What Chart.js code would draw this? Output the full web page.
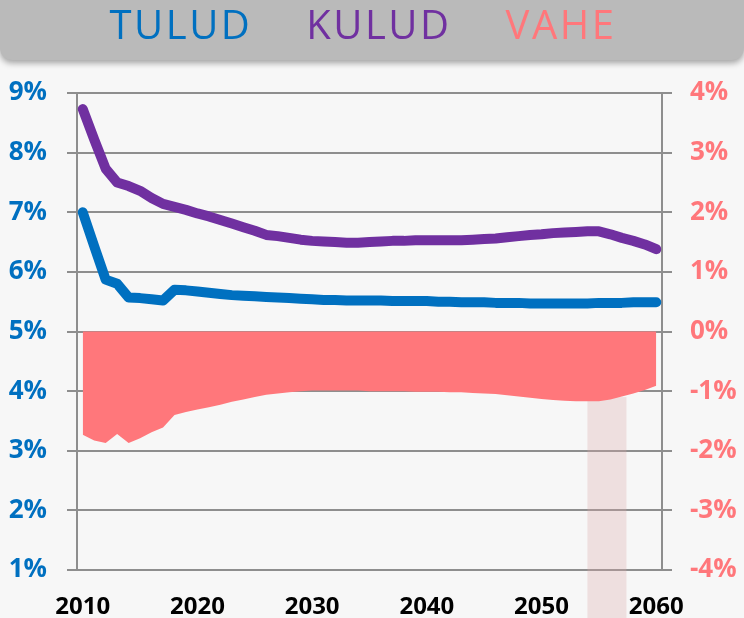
<!DOCTYPE html>
<html>
<head>
<meta charset="utf-8">
<script src="https://cdn.jsdelivr.net/npm/chart.js@4.4.0/dist/chart.umd.min.js"></script>
<style>
html,body{margin:0;padding:0;background:#F7F7F7;}
#wrap{width:744px;height:618px;position:relative;}
canvas{display:block;}
</style>
</head>
<body>
<div id="wrap"><canvas id="c" width="744" height="618"></canvas></div>
<script>
const years = [2010,2011,2012,2013,2014,2015,2016,2017,2018,2019,
               2020,2021,2022,2023,2024,2025,2026,2027,2028,2029,
               2030,2031,2032,2033,2034,2035,2036,2037,2038,2039,
               2040,2041,2042,2043,2044,2045,2046,2047,2048,2049,
               2050,2051,2052,2053,2054,2055,2056,2057,2058,2059,2060];

const tulud = [7.00,6.43,5.87,5.80,5.57,5.56,5.54,5.52,5.70,5.69,
               5.67,5.65,5.63,5.61,5.60,5.59,5.58,5.57,5.56,5.55,
               5.54,5.53,5.53,5.52,5.52,5.52,5.52,5.51,5.51,5.51,
               5.51,5.50,5.50,5.49,5.49,5.49,5.48,5.48,5.48,5.47,
               5.47,5.47,5.47,5.47,5.47,5.48,5.48,5.48,5.49,5.49,5.49];

const kulud = [8.73,8.22,7.73,7.50,7.44,7.36,7.24,7.14,7.09,7.04,
               6.98,6.93,6.87,6.81,6.75,6.69,6.62,6.60,6.57,6.54,
               6.52,6.51,6.50,6.49,6.49,6.50,6.51,6.52,6.52,6.53,
               6.53,6.53,6.53,6.53,6.54,6.55,6.56,6.58,6.60,6.62,
               6.63,6.65,6.66,6.67,6.68,6.68,6.63,6.57,6.52,6.46,6.38];

const vahe = [-1.73,-1.83,-1.87,-1.72,-1.87,-1.79,-1.69,-1.61,-1.40,-1.35,
              -1.31,-1.27,-1.23,-1.18,-1.14,-1.10,-1.06,-1.04,-1.02,-1.00,
              -0.99,-0.99,-0.99,-0.99,-0.99,-1.00,-1.00,-1.00,-1.00,-1.01,
              -1.01,-1.01,-1.02,-1.02,-1.03,-1.04,-1.05,-1.07,-1.09,-1.11,
              -1.13,-1.15,-1.16,-1.17,-1.17,-1.17,-1.14,-1.09,-1.04,-0.98,-0.91];

const seriesNames = ['TULUD', 'KULUD', 'VAHE'];
const seriesColors = ['#0070C0', '#7030A0', '#FF777B'];

const leftAxisRange = [1, 9];     // percent
const rightAxisRange = [-4, 4];   // percent
const labelEvery = 10;            // years between x labels

const highlightYears = [2054, 2057.4];
const highlightTop = -1.1;        // right-axis value where the shaded column starts

const gridColor = '#8E8E8E';
const legendLetterSpacing = '2.5px';

const decorPlugin = {
  id: 'decor',
  beforeUpdate(chart) {
    const lg = chart.legend;
    if (lg && !lg._lsPatched) {
      lg._lsPatched = true;
      const wrap = (fn) => function (...args) {
        const c = this.ctx;
        const prev = c.letterSpacing;
        c.letterSpacing = legendLetterSpacing;
        try { return fn.apply(this, args); } finally { c.letterSpacing = prev || '0px'; }
      };
      lg.fit = wrap(lg.fit);
      lg.draw = wrap(lg.draw);
    }
  },
  beforeDraw(chart) {
    const ctx = chart.ctx;
    ctx.save();
    ctx.fillStyle = '#F7F7F7';
    ctx.fillRect(0, 0, chart.width, chart.height);
    ctx.shadowColor = 'rgba(0,0,0,0.35)';
    ctx.shadowBlur = 6;
    ctx.shadowOffsetY = 3;
    ctx.fillStyle = '#BABABA';
    ctx.beginPath();
    ctx.roundRect(0, -20, chart.width, 80, 12);
    ctx.fill();
    ctx.restore();
  },
  beforeDatasetsDraw(chart) {
    const ctx = chart.ctx;
    const xs = chart.scales.x, ys = chart.scales.y1;
    const xa = xs.getPixelForValue(highlightYears[0] - years[0]);
    const xb = xs.getPixelForValue(highlightYears[1] - years[0]);
    const top = ys.getPixelForValue(highlightTop);
    ctx.save();
    ctx.fillStyle = 'rgba(220,170,170,0.3)';
    ctx.fillRect(xa, top, xb - xa, chart.height - top);
    ctx.restore();
  }
};

const tickFont = { family: 'Open Sans', weight: 'bold', size: 26 };

new Chart(document.getElementById('c'), {
  type: 'line',
  data: {
    labels: years.map(String),
    datasets: [
      { label: seriesNames[0], data: tulud, yAxisID: 'y', borderColor: seriesColors[0],
        borderWidth: 10, borderCapStyle: 'round', borderJoinStyle: 'round',
        pointRadius: 0, fill: false, tension: 0 },
      { label: seriesNames[1], data: kulud, yAxisID: 'y', borderColor: seriesColors[1],
        borderWidth: 10, borderCapStyle: 'round', borderJoinStyle: 'round',
        pointRadius: 0, fill: false, tension: 0 },
      { label: seriesNames[2], data: vahe, yAxisID: 'y1', borderColor: seriesColors[2],
        backgroundColor: seriesColors[2], borderWidth: 0, pointRadius: 0,
        fill: 'origin', tension: 0 }
    ]
  },
  options: {
    responsive: false,
    animation: false,
    devicePixelRatio: 1,
    layout: { padding: { top: -37, left: -62, right: 0, bottom: 0 } },
    plugins: {
      tooltip: { enabled: false },
      legend: {
        display: true,
        position: 'top',
        align: 'center',
        onClick: null,
        labels: {
          font: { family: 'Open Sans', size: 40, weight: 'normal' },
          padding: 10,
          boxWidth: 24,
          boxHeight: 110,
          generateLabels: () => seriesNames.map((n, i) => ({
            text: n, fontColor: seriesColors[i],
            fillStyle: 'rgba(0,0,0,0)', strokeStyle: 'rgba(0,0,0,0)',
            lineWidth: 0, hidden: false, datasetIndex: i
          }))
        }
      }
    },
    scales: {
      x: {
        type: 'category',
        offset: true,
        grid: {
          display: true, drawOnChartArea: false, offset: true,
          tickLength: 8, lineWidth: 2, tickWidth: 2,
          color: (c) => (c.index % labelEvery === 0 && c.index < years.length) ? gridColor : 'rgba(0,0,0,0)',
          tickColor: (c) => (c.index % labelEvery === 0 && c.index < years.length) ? gridColor : 'rgba(0,0,0,0)'
        },
        border: { display: false },
        ticks: {
          autoSkip: false, maxRotation: 0, minRotation: 0, padding: 15,
          color: '#000000',
          font: { family: 'Open Sans', weight: 'bold', size: 24 },
          callback: (v, i) => ((years[i] - years[0]) % labelEvery === 0 ? String(years[i]) : null)
        },
        afterFit: (s) => { s.height = 48; }
      },
      y: {
        position: 'left',
        min: leftAxisRange[0], max: leftAxisRange[1],
        grid: { color: gridColor, lineWidth: 2, tickLength: 10 },
        border: { display: true, color: gridColor, width: 2 },
        ticks: { stepSize: 1, padding: 20, color: seriesColors[0], font: tickFont,
                 callback: (v) => v + '%' },
        afterFit: (s) => { s.width = 139; }
      },
      y1: {
        position: 'right',
        min: rightAxisRange[0], max: rightAxisRange[1],
        grid: { drawOnChartArea: false, color: gridColor, lineWidth: 2, tickLength: 10 },
        border: { display: true, color: gridColor, width: 2 },
        ticks: { stepSize: 1, padding: 18, color: seriesColors[2], font: tickFont,
                 callback: (v) => v + '%' },
        afterFit: (s) => { s.width = 82; }
      }
    }
  },
  plugins: [decorPlugin]
});
</script>
</body>
</html>
